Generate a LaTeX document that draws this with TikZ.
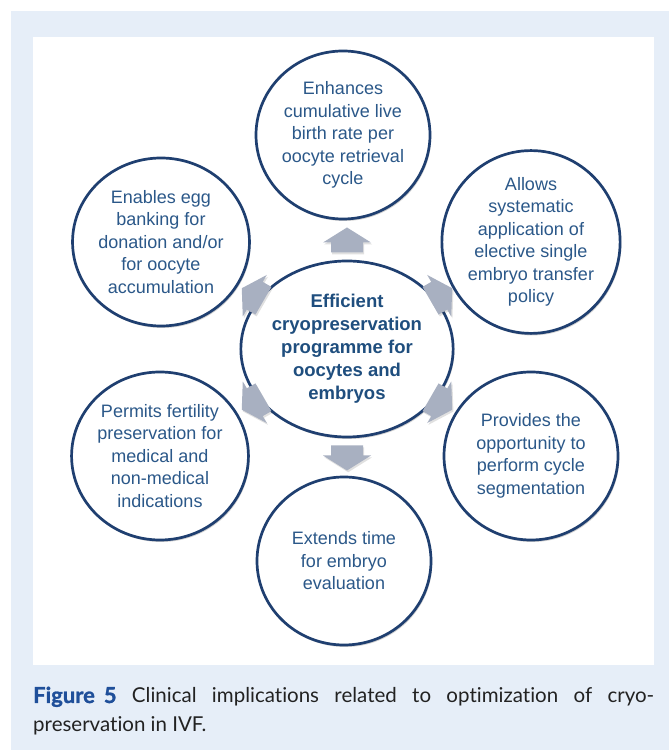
\documentclass[tikz,border=0pt]{standalone}
\usepackage{fontspec}
\setmainfont{Liberation Sans}
\newfontfamily\capfont[Ligatures={NoCommon}]{Lato}
\usetikzlibrary{shapes.geometric,calc,shadows}
\definecolor{bgblue}{HTML}{E6EEF8}
\definecolor{ringblue}{HTML}{1F3F70}
\definecolor{txtblue}{HTML}{2B5889}
\definecolor{boldblue}{HTML}{1F4E7E}
\definecolor{arrowgray}{HTML}{A8B0C1}
\definecolor{capblue}{HTML}{1F4F9A}
\definecolor{captext}{HTML}{222222}
\newcommand\blockarrow[1]{%
  \fill[black, opacity=0.12, shift={($(c)+(#1:109)+(1.2,-1.8)$)}, rotate=#1]
    (-12.5,-16) -- (-2.5,-16) -- (-2.5,-24) -- (12.5,0) -- (-2.5,24) -- (-2.5,16) -- (-12.5,16) -- cycle;
  \fill[arrowgray, shift={($(c)+(#1:109)$)}, rotate=#1]
    (-12.5,-16) -- (-2.5,-16) -- (-2.5,-24) -- (12.5,0) -- (-2.5,24) -- (-2.5,16) -- (-12.5,16) -- cycle;}
\begin{document}
\begin{tikzpicture}[x=1pt,y=1pt,
  outer/.style={ellipse, draw=ringblue, line width=2.7pt, fill=white,
    minimum width=174pt, minimum height=168pt, inner sep=0pt, align=center,
    text=txtblue, font=\fontsize{18}{22.5}\selectfont,
    drop shadow={shadow xshift=1.2pt, shadow yshift=-2pt, opacity=0.18, fill=black}},
  centre/.style={outer, minimum width=192pt, minimum height=176pt,
    text=boldblue, font=\fontsize{18.5}{23}\selectfont\bfseries},
  captionstyle/.style={anchor=base west, inner sep=0pt, text=captext,
    font=\capfont\fontsize{20.5}{29}\selectfont}]
\useasboundingbox (0,0) rectangle (669,750);
\fill[bgblue] (11,0) rectangle (669,739);
\fill[white] (33,85) rectangle (654,713);

\node[centre] (c) at (347,401) {Efficient\\cryopreservation\\programme for\\oocytes and\\embryos};
\node[outer] (t) at (343,615) {Enhances\\cumulative live\\birth rate per\\oocyte retrieval\\cycle};
\node[outer] (tr) at (531,508) {Allows\\systematic\\application of\\elective single\\embryo transfer\\policy};
\node[outer] (br) at (531,294) {Provides the\\opportunity to\\perform cycle\\segmentation};
\node[outer] (b) at (344,189) {Extends time\\for embryo\\evaluation};
\node[outer] (bl) at (160,294) {Permits fertility\\preservation for\\medical and\\non-medical\\indications};
\node[outer] (tl) at (161,508) {Enables egg\\banking for\\donation and/or\\for oocyte\\accumulation};

\blockarrow{90}
\blockarrow{30}
\blockarrow{-30}
\blockarrow{-90}
\blockarrow{-150}
\blockarrow{150}

\node[captionstyle] (cap1) at (33,47)
  {\makebox[621pt][s]{\textcolor{capblue}{\fontsize{22}{29}\selectfont\bfseries\addfontfeature{FakeBold=1.2}Figure\kern9pt 5} Clinical implications related to optimization of cryo-}};
\node[captionstyle] (cap2) at (33,18) {preservation in IVF.};
\end{tikzpicture}
\end{document}
